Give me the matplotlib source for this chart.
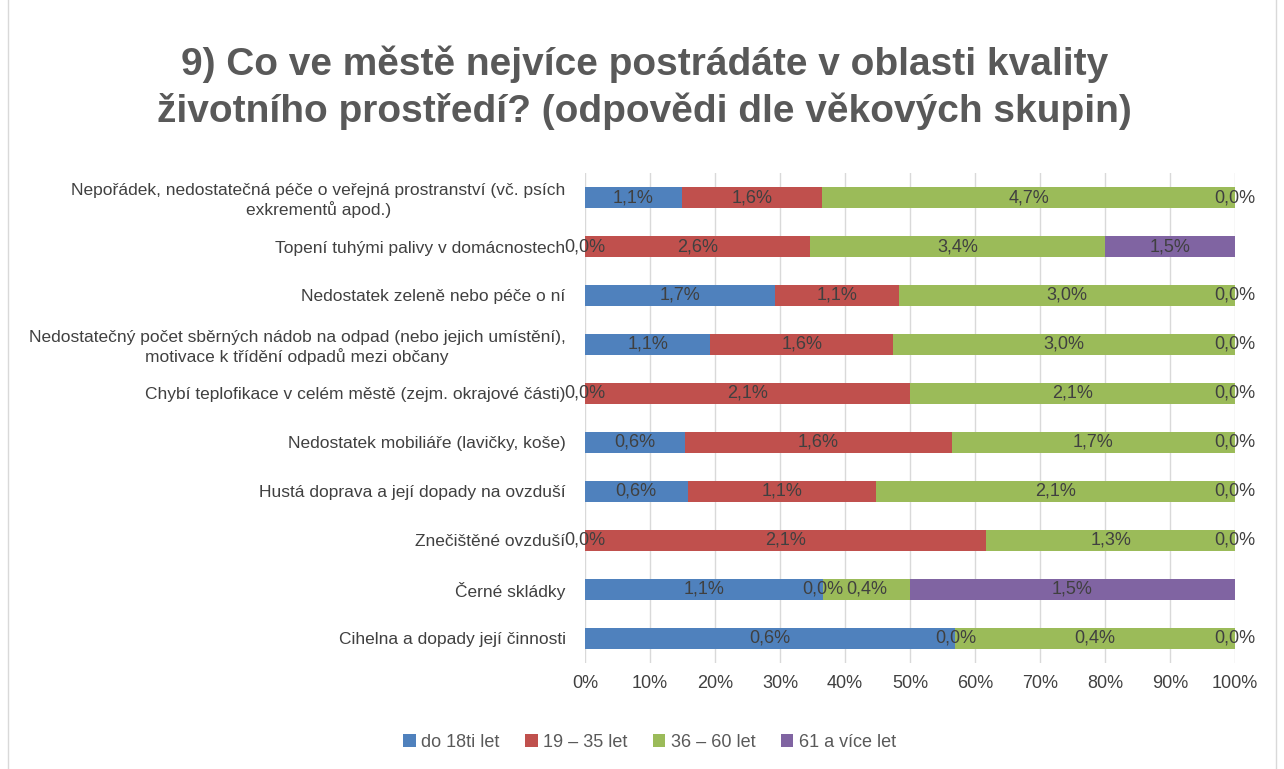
import numpy as np
import matplotlib
matplotlib.use('Agg')
import matplotlib.pyplot as plt
from matplotlib.patches import Rectangle

plt.rcParams['font.family'] = ['Liberation Sans', 'DejaVu Sans']

# categories (top to bottom)
categories = [
    "Nepořádek, nedostatečná péče o veřejná prostranství (vč. psích\nexkrementů apod.)",
    "Topení tuhými palivy v domácnostech",
    "Nedostatek zeleně nebo péče o ní",
    "Nedostatečný počet sběrných nádob na odpad (nebo jejich umístění),\nmotivace k třídění odpadů mezi občany",
    "Chybí teplofikace v celém městě (zejm. okrajové části)",
    "Nedostatek mobiliáře (lavičky, koše)",
    "Hustá doprava a její dopady na ovzduší",
    "Znečištěné ovzduší",
    "Černé skládky",
    "Cihelna a dopady její činnosti",
]

series_names = ["do 18ti let", "19 – 35 let", "36 – 60 let", "61 a více let"]
colors = ["#4F81BD", "#C0504D", "#9BBB59", "#8064A2"]

# shares of respondents (%) per age group
do_18 = [1.1, 0.0, 1.7, 1.1, 0.0, 0.6, 0.6, 0.0, 1.1, 0.57]
od_19_35 = [1.6, 2.6, 1.1, 1.6, 2.1, 1.6, 1.1, 2.1, 0.0, 0.0]
od_36_60 = [4.7, 3.4, 3.0, 3.0, 2.1, 1.7, 2.1, 1.3, 0.4, 0.43]
od_61 = [0.0, 1.5, 0.0, 0.0, 0.0, 0.0, 0.0, 0.0, 1.5, 0.0]

data = np.array([do_18, od_19_35, od_36_60, od_61])
totals = data.sum(axis=0)
shares = data / totals * 100

fig = plt.figure(figsize=(12.84, 7.69), dpi=100)
ax = fig.add_axes([0.4556, 0.138, 0.5062, 0.637])

y = np.arange(len(categories))
left = np.zeros(len(categories))
for i in range(4):
    ax.barh(y, shares[i], left=left, height=0.42, color=colors[i],
            label=series_names[i], zorder=2)
    for j in range(len(categories)):
        xc = left[j] + shares[i][j] / 2
        txt = ('%.1f%%' % data[i][j]).replace('.', ',')
        ax.text(xc, y[j], txt, ha='center', va='center', fontsize=13,
                color='#404040', zorder=3)
    left = left + shares[i]

ax.set_xlim(0, 100)
ax.set_ylim(len(categories) - 0.5, -0.5)
ax.set_xticks(np.arange(0, 101, 10))
ax.set_xticklabels(['%d%%' % v for v in range(0, 101, 10)])
ax.set_yticks(y)
ax.set_yticklabels(categories, multialignment='center')
ax.tick_params(axis='y', length=0, pad=14, labelsize=12.5, labelcolor='#404040')
ax.tick_params(axis='x', length=0, pad=9, labelsize=13, labelcolor='#404040')
ax.grid(axis='x', color='#D9D9D9', linewidth=1, zorder=0)
for s in ax.spines.values():
    s.set_visible(False)

fig.text(0.502, 0.886, "9) Co ve městě nejvíce postrádáte v oblasti kvality\nživotního prostředí? (odpovědi dle věkových skupin)",
         ha='center', va='center', fontsize=28, fontweight='bold', color='#595959',
         linespacing=1.3)

ax.legend(loc='center', bbox_to_anchor=(0.506, 0.035), bbox_transform=fig.transFigure,
          ncol=4, frameon=False, fontsize=13, labelcolor='#595959',
          handlelength=0.7, handleheight=0.7, handletextpad=0.3, columnspacing=1.4)

fig.patches.append(Rectangle((0.006, -0.01), 0.988, 1.05, transform=fig.transFigure,
                             fill=False, edgecolor='#D9D9D9', linewidth=1))

fig.savefig('out.png', dpi=100)
